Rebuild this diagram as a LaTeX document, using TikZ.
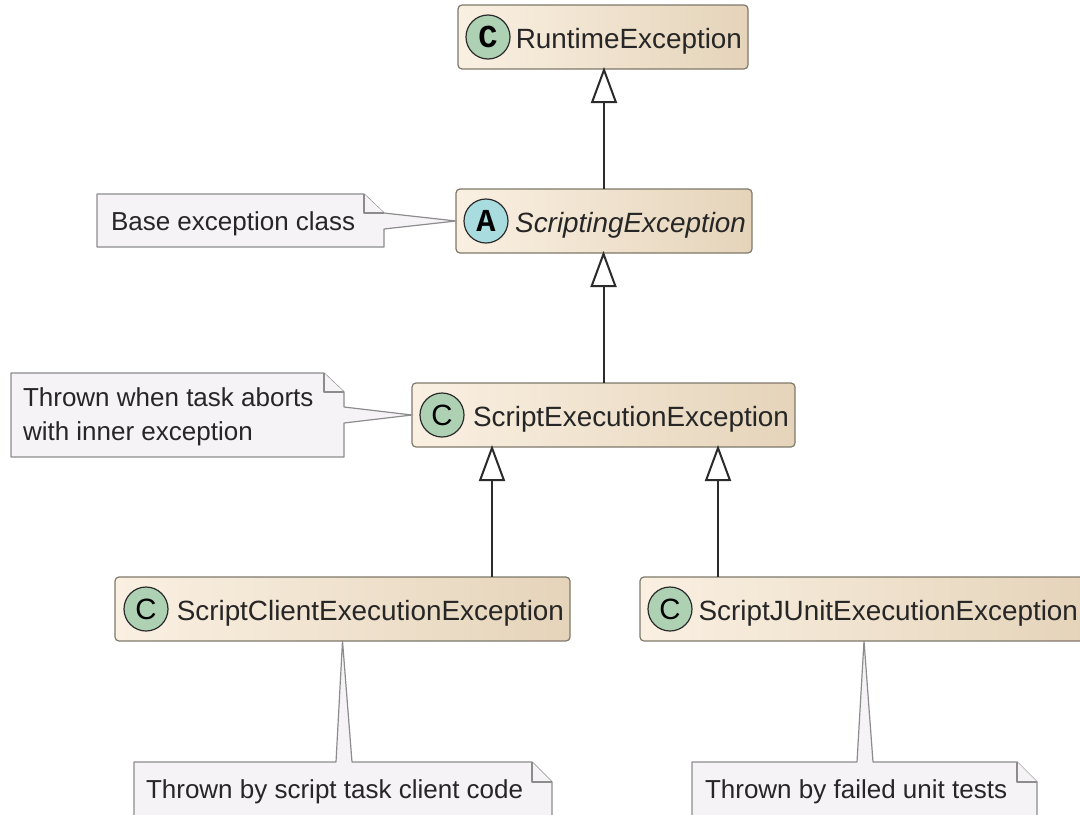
\documentclass[tikz,border=0pt]{standalone}
\usepackage{fontspec}
\setmainfont{Liberation Sans}
\newfontfamily\badgefont{Liberation Mono}
\usetikzlibrary{arrows.meta}
\definecolor{boxleft}{HTML}{FAF0E2}
\definecolor{boxright}{HTML}{E5D4BA}
\definecolor{boxline}{HTML}{7F7869}
\definecolor{notefill}{HTML}{F6F3F7}
\definecolor{noteline}{HTML}{8C8C8C}
\definecolor{classfill}{HTML}{ADD1B2}
\definecolor{abstractfill}{HTML}{A9DCDF}
\definecolor{inkline}{HTML}{2B2B2B}
\tikzset{%
    inner sep=0pt,%
    outer sep=0pt,%
    extends/.style={line width=1.5pt,draw=inkline,shorten >=-1.5pt,-{Triangle[open,length=27pt,width=19.5pt,fill=white]}},
    excbox/.style={draw=boxline,line width=0.9pt,rounded corners=3pt,left color=boxleft,right color=boxright,
      inner xsep=4.5pt,minimum height=48pt,text height=20pt,text depth=3.5pt,align=right,
      font=\fontsize{20.9}{24}\selectfont,text=black!85},
    badge/.style={circle,draw=inkline,line width=0.9pt,minimum size=33pt,fill=classfill,font=\fontsize{22}{24}\selectfont},
    notebox/.style={draw=noteline,line width=0.9pt,fill=notefill,line join=round},
    notetext/.style={anchor=base west,align=left,font=\fontsize{19.5}{25.5}\selectfont,text=black!85}
    }
\begin{document}
\begin{tikzpicture}[x=0.75pt,y=-0.75pt]
    \useasboundingbox (0,0) rectangle (1080,814);
    \clip (0,0) rectangle (1080,814);
    % classes
    \node[excbox,text width=208.5pt] (runtime) at (603,37) {RuntimeException};
    \node[excbox,text width=213pt] (scripting) at (604,221) {\itshape ScriptingException};
    \node[excbox,text width=278.25pt] (scriptexec) at (603.5,415) {ScriptExecutionException};
    \node[excbox,text width=332.25pt] (client) at (342.5,609) {ScriptClientExecutionException};
    \node[excbox,text width=324pt] (junit) at (862,609) {ScriptJUnitExecutionException};

    \node[badge,font=\badgefont\bfseries\fontsize{24}{24}\selectfont] (runtimeC) at (488,37) {C};
    \node[badge,fill=abstractfill,font=\badgefont\bfseries\fontsize{24}{24}\selectfont] (scriptingA) at (486,221) {A};
    \node[badge] (scriptexecC) at (442,415) {C};
    \node[badge] (clientC) at (146,609) {C};
    \node[badge] (junitC) at (670,609) {C};

    % inheritance
    \coordinate (leftup) at (492,0);
    \coordinate (rightup) at (718,0);
    \draw[extends] (scripting.north) -- (scripting.north |- runtime.south);
    \draw[extends] (scriptexec.north) -- (scriptexec.north |- scripting.south);
    \draw[extends] (client.north -| leftup) -- (scriptexec.south -| leftup);
    \draw[extends] (junit.north -| rightup) -- (scriptexec.south -| rightup);

    % notes
    \draw[notebox] (97,194) -- (364,194) -- (384,213) -- (scripting.west) -- (384,229) -- (384,247) -- (97,247) -- cycle;
    \draw[notebox] (364,194) -- (364,213) -- (384,213);
    \node[notetext] (basenote) at (111,230) {Base exception class};

    \draw[notebox] (11,373) -- (324,373) -- (344,392) -- (344,407) -- (scriptexec.west) -- (344,423) -- (344,457) -- (11,457) -- cycle;
    \draw[notebox] (324,373) -- (324,392) -- (344,392);
    \node[notetext,anchor=west] (abortnote) at (23,417) {Thrown when task aborts\\with inner exception};

    \draw[notebox] (134,762) -- (336,762) -- (client.south) -- (352,762) -- (532,762) -- (552,782) -- (552,840) -- (134,840) -- cycle;
    \draw[notebox] (532,762) -- (532,782) -- (552,782);
    \node[notetext] (clientnote) at (146,798) {Thrown by script task client code};

    \draw[notebox] (692,762) -- (857,762) -- ([xshift=1.5pt]junit.south) -- (873,762) -- (1017,762) -- (1037,782) -- (1037,840) -- (692,840) -- cycle;
    \draw[notebox] (1017,762) -- (1017,782) -- (1037,782);
    \node[notetext] (junitnote) at (705,798) {Thrown by failed unit tests};
\end{tikzpicture}
\end{document}
